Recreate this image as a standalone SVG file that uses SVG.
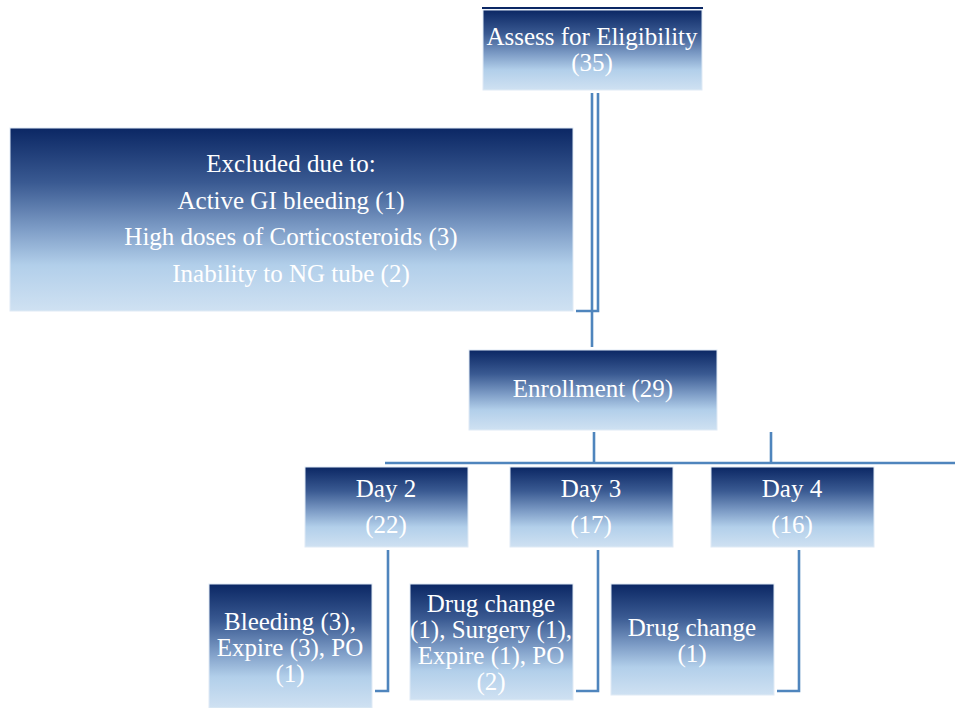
<svg xmlns="http://www.w3.org/2000/svg" width="955" height="708" viewBox="0 0 955 708">
<defs>
<linearGradient id="g" x1="0" y1="0" x2="0" y2="1">
<stop offset="0" stop-color="#0b2764"/>
<stop offset="0.3" stop-color="#3a5a92"/>
<stop offset="0.55" stop-color="#7d9cc6"/>
<stop offset="0.75" stop-color="#b2cfea"/>
<stop offset="1" stop-color="#cfe1f2"/>
</linearGradient>
</defs>
<style>
.box{fill:url(#g);stroke:#dfeaf5;stroke-width:1}
.t{font-family:'Liberation Serif',serif;font-size:25px;fill:#ffffff;text-anchor:middle}
.c{fill:none;stroke:#4f85bd;stroke-width:2.6}
</style>
<line x1="482" y1="8" x2="703" y2="8" stroke="#0b2764" stroke-width="2"/>
<g id="connectors">
<path class="c" d="M592 93V347"/>
<path class="c" d="M598 93V311H576"/>
<path class="c" d="M594 432V462"/>
<path class="c" d="M771 432V462"/>
<path class="c" d="M385 463H955"/>
<path class="c" d="M388 550V691H375"/>
<path class="c" d="M598 550V691H576"/>
<path class="c" d="M799 550V691H777"/>
</g>
<g id="assess">
<rect class="box" x="483" y="10" width="219" height="80"/>
<text class="t" x="592" y="45">Assess for Eligibility</text>
<text class="t" x="592" y="71">(35)</text>
</g>
<g id="excluded">
<rect class="box" x="10" y="128" width="563" height="183"/>
<text class="t" x="291" y="172">Excluded due to:</text>
<text class="t" x="291" y="209">Active GI bleeding (1)</text>
<text class="t" x="291" y="245">High doses of Corticosteroids (3)</text>
<text class="t" x="291" y="282">Inability to NG tube (2)</text>
</g>
<g id="enrollment">
<rect class="box" x="469" y="350" width="248" height="80"/>
<text class="t" x="593" y="397">Enrollment (29)</text>
</g>
<g id="day2">
<rect class="box" x="305" y="467" width="163" height="80"/>
<text class="t" x="386" y="497">Day 2</text>
<text class="t" x="386" y="533">(22)</text>
</g>
<g id="day3">
<rect class="box" x="510" y="467" width="163" height="80"/>
<text class="t" x="591" y="497">Day 3</text>
<text class="t" x="591" y="533">(17)</text>
</g>
<g id="day4">
<rect class="box" x="711" y="467" width="163" height="80"/>
<text class="t" x="792" y="497">Day 4</text>
<text class="t" x="792" y="533">(16)</text>
</g>
<g id="out2">
<rect class="box" x="209" y="584" width="163" height="124"/>
<text class="t" x="290" y="630">Bleeding (3),</text>
<text class="t" x="290" y="656">Expire (3), PO</text>
<text class="t" x="290" y="682">(1)</text>
</g>
<g id="out3">
<rect class="box" x="410" y="584" width="163" height="116"/>
<text class="t" x="491" y="612">Drug change</text>
<text class="t" x="491" y="638">(1), Surgery (1),</text>
<text class="t" x="491" y="664">Expire (1), PO</text>
<text class="t" x="491" y="690">(2)</text>
</g>
<g id="out4">
<rect class="box" x="611" y="584" width="163" height="111"/>
<text class="t" x="692" y="636">Drug change</text>
<text class="t" x="692" y="662">(1)</text>
</g>
</svg>
